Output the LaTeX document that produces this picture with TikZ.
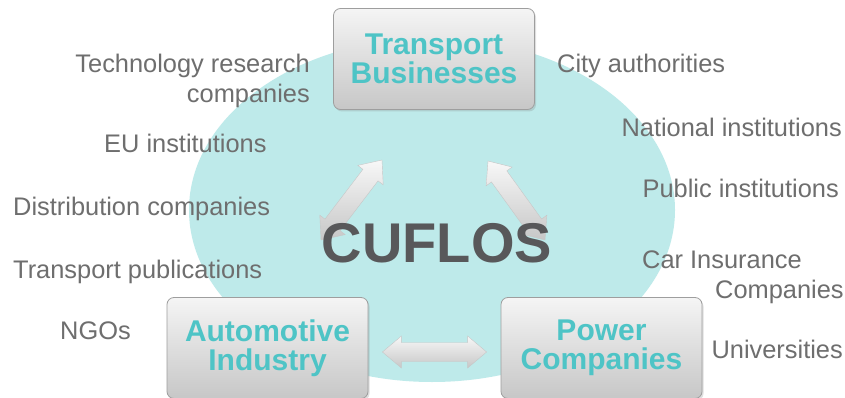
\documentclass[tikz,border=0pt]{standalone}
\usepackage{fontspec}
\setmainfont{Liberation Sans}
\usetikzlibrary{calc,shadows,shapes.geometric}

\definecolor{cloud}{RGB}{190,234,234}
\definecolor{boxtext}{RGB}{78,196,198}
\definecolor{labelgray}{RGB}{110,110,110}
\definecolor{titlegray}{RGB}{88,88,90}

\tikzset{
  stakebox/.style={rectangle, rounded corners=7pt, draw=black!38, line width=0.8pt,
    top color=black!4, bottom color=black!22,
    minimum width=201pt, minimum height=101pt, inner sep=0pt, align=center,
    text=boxtext, font=\fontsize{30}{29.5}\selectfont\bfseries,
    drop shadow={shadow xshift=1.5pt, shadow yshift=-2pt, opacity=0.25}},
  party/.style={text=labelgray, font=\fontsize{25.4}{30}\selectfont, inner sep=0pt},
  fatarrow/.style={draw=black!22, line width=0.4pt, top color=black!3, bottom color=black!22},
}

% broad double-headed arrow from #1 to #2
\newcommand{\duoarrow}[2]{%
  \coordinate (hA) at ($(#1)!19pt!(#2)$);
  \coordinate (hB) at ($(#2)!19pt!(#1)$);
  \path[fatarrow] (#1)
    -- ($(hA)!16pt!90:(#2)$) -- ($(hA)!9.5pt!90:(#2)$)
    -- ($(hB)!9.5pt!-90:(#1)$) -- ($(hB)!16pt!-90:(#1)$)
    -- (#2)
    -- ($(hB)!16pt!90:(#1)$) -- ($(hB)!9.5pt!90:(#1)$)
    -- ($(hA)!9.5pt!-90:(#2)$) -- ($(hA)!16pt!-90:(#2)$)
    -- cycle;
}

\begin{document}
\begin{tikzpicture}[x=1pt, y=-1pt]
  \useasboundingbox (0,0) rectangle (845,398);
  \fill[white] (0,0) rectangle (845,398);

  % shared space of the stakeholders
  \node[ellipse, fill=cloud, inner sep=0pt, minimum width=486pt, minimum height=344pt] (hub) at (432,210) {};

  % the three core actors
  \node[stakebox] (tb) at (434,59) {Transport\\Businesses};
  \node[stakebox] (ai) at (267.5,348) {Automotive\\Industry};
  \node[stakebox] (pc) at (601.5,348) {Power\\Companies};

  % links between the core actors
  \coordinate (l1) at (321,240);
  \coordinate (l2) at (382,160);
  \coordinate (r1) at (545,240);
  \coordinate (r2) at (488,161);
  \coordinate (b1) at ($(ai.east)+(14,4)$);
  \coordinate (b2) at ($(pc.west)+(-14,4)$);
  \duoarrow{l1}{l2}
  \duoarrow{r1}{r2}
  \duoarrow{b1}{b2}

  \node[text=titlegray, inner sep=0pt, font=\fontsize{56}{60}\selectfont\bfseries] (name) at (437,243) {CUFLOS};

  % further stakeholders, left
  \node[party, align=right, anchor=north east] (tech) at (310,54) {Technology research\\companies};
  \node[party, anchor=base west] (eu) at (104,153) {EU institutions};
  \node[party, anchor=base west] (dist) at (13,215) {Distribution companies};
  \node[party, anchor=base west] (pub) at (13,278) {Transport publications};
  \node[party, anchor=base west] (ngo) at (60,339) {NGOs};

  % further stakeholders, right
  \node[party, anchor=base west] (city) at (557,73) {City authorities};
  \node[party, anchor=base east] (nat) at (842,137) {National institutions};
  \node[party, anchor=base east] (pubi) at (839,197) {Public institutions};
  \node[party, align=left, anchor=north west] (ins) at (642,251) {Car Insurance\\\hspace*{73pt}Companies};
  \node[party, anchor=base east] (uni) at (843,358) {Universities};
\end{tikzpicture}
\end{document}
